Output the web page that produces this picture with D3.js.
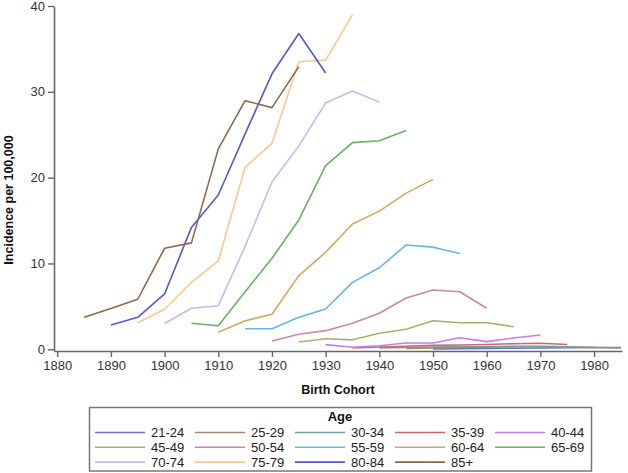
<!DOCTYPE html>
<html><head><meta charset="utf-8">
<script src="https://cdn.jsdelivr.net/npm/d3@7"></script>
<style>body{margin:0;background:#fff}svg{display:block;font-family:"Liberation Sans",Arial,sans-serif}</style>
</head><body><svg id="c" width="628" height="473"></svg>
<script>
const ageGroups = ["21-24","25-29","30-34","35-39","40-44","45-49","50-54","55-59","60-64","65-69","70-74","75-79","80-84","85+"];
const startYears = [1950,1945,1940,1935,1930,1925,1920,1915,1910,1905,1900,1895,1890,1885];
const seriesColors = ["#7070c8","#a88670","#70a098","#d06868","#c080f0","#a8b070","#c888a8","#68b4e8","#d0a860","#68b068","#c8b8f0","#f8c890","#5858c8","#8a6a50"];
const v21_24 = [0.05,0.08,0.1,0.12,0.15,0.18,0.2,0.2];
const v25_29 = [0.1,0.15,0.2,0.25,0.3,0.3,0.25,0.2,0.15];
const v30_34 = [0.15,0.2,0.25,0.3,0.3,0.35,0.35,0.3,0.2];
const v35_39 = [0.15,0.27,0.35,0.45,0.5,0.55,0.65,0.7,0.55];
const v40_44 = [0.54,0.23,0.42,0.73,0.73,1.35,0.89,1.32,1.67];
const v45_49 = [0.85,1.22,1.1,1.86,2.33,3.33,3.1,3.1,2.63];
const v50_54 = [0.97,1.75,2.17,3.03,4.2,5.98,6.9,6.7,4.78];
const v55_59 = [2.4,2.4,3.73,4.7,7.8,9.5,12.16,11.9,11.15];
const v60_64 = [1.98,3.33,4.08,8.58,11.3,14.6,16.1,18.2,19.8];
const v65_69 = [3.03,2.75,6.7,10.6,15.07,21.4,24.08,24.3,25.5];
const v70_74 = [3.0,4.78,5.08,12.0,19.5,23.7,28.7,30.1,28.8];
const v75_79 = [3.1,4.66,7.8,10.3,21.2,24.0,33.5,33.7,38.96];
const v80_84 = [2.83,3.73,6.45,14.2,17.98,25.1,32.1,36.8,32.2];
const v85p = [3.73,4.75,5.83,11.77,12.4,23.35,28.97,28.16,32.94];
const seriesValues = [v21_24,v25_29,v30_34,v35_39,v40_44,v45_49,v50_54,v55_59,v60_64,v65_69,v70_74,v75_79,v80_84,v85p];
const xTicks = [1880,1890,1900,1910,1920,1930,1940,1950,1960,1970,1980];
const yTicks = [0,10,20,30,40];

const svg = d3.select("#c");
const x = d3.scaleLinear().domain([1879.4,1985.2]).range([54,622]);
const y = d3.scaleLinear().domain([-0.2,40]).range([351,6]);
const axisColor = "#666";

const series = ageGroups.map((g,i)=>({name:g,color:seriesColors[i],
  pts:seriesValues[i].map((v,j)=>({yr:startYears[i]+5*j,v}))}));

const line = d3.line().x(d=>x(d.yr)).y(d=>y(d.v));
svg.append("g").selectAll("path").data(series).join("path")
  .attr("d",d=>line(d.pts)).attr("fill","none").attr("stroke",d=>d.color).attr("stroke-width",1.6)
  .attr("stroke-linejoin","round");

const xa = svg.append("g").attr("transform","translate(0,351)")
  .call(d3.axisBottom(x).tickValues(xTicks).tickFormat(d3.format("d")).tickSize(6).tickPadding(4).tickSizeOuter(0));
const ya = svg.append("g").attr("transform","translate(54,0)")
  .call(d3.axisLeft(y).tickValues(yTicks).tickFormat(d3.format("d")).tickSize(6).tickPadding(3).tickSizeOuter(0));
[xa,ya].forEach(a=>{
  a.select(".domain").attr("stroke",axisColor).attr("stroke-width",1.6);
  a.selectAll(".tick line").attr("stroke",axisColor).attr("stroke-width",1.4);
  a.selectAll(".tick text").attr("fill","#333").style("font-size","13px").style("font-family","'Liberation Sans',Arial,sans-serif");
});

svg.append("text").attr("x",338).attr("y",394).attr("text-anchor","middle")
  .style("font-size","12.5px").style("font-weight","bold").attr("fill","#111").text("Birth Cohort");
svg.append("text").attr("transform","translate(13,200) rotate(-90)").attr("text-anchor","middle")
  .style("font-size","12.5px").style("font-weight","bold").attr("fill","#111").text("Incidence per 100,000");

const lg = svg.append("g");
lg.append("rect").attr("x",89.5).attr("y",407.5).attr("width",502).attr("height",63.5)
  .attr("fill","none").attr("stroke","#777").attr("stroke-width",1.5);
lg.append("text").attr("x",340).attr("y",421).attr("text-anchor","middle")
  .style("font-size","13px").style("font-weight","bold").attr("fill","#111").text("Age");
const items = lg.selectAll("g.item").data(series).join("g").attr("class","item")
  .attr("transform",(d,i)=>`translate(${95+100*(i%5)},${432.5+14.8*Math.floor(i/5)})`);
items.append("line").attr("x1",0).attr("x2",50).attr("y1",0).attr("y2",0)
  .attr("stroke",d=>d.color).attr("stroke-width",1.6);
items.append("text").attr("x",56).attr("y",4.5).style("font-size","13px").attr("fill","#222").text(d=>d.name);
</script></body></html>
